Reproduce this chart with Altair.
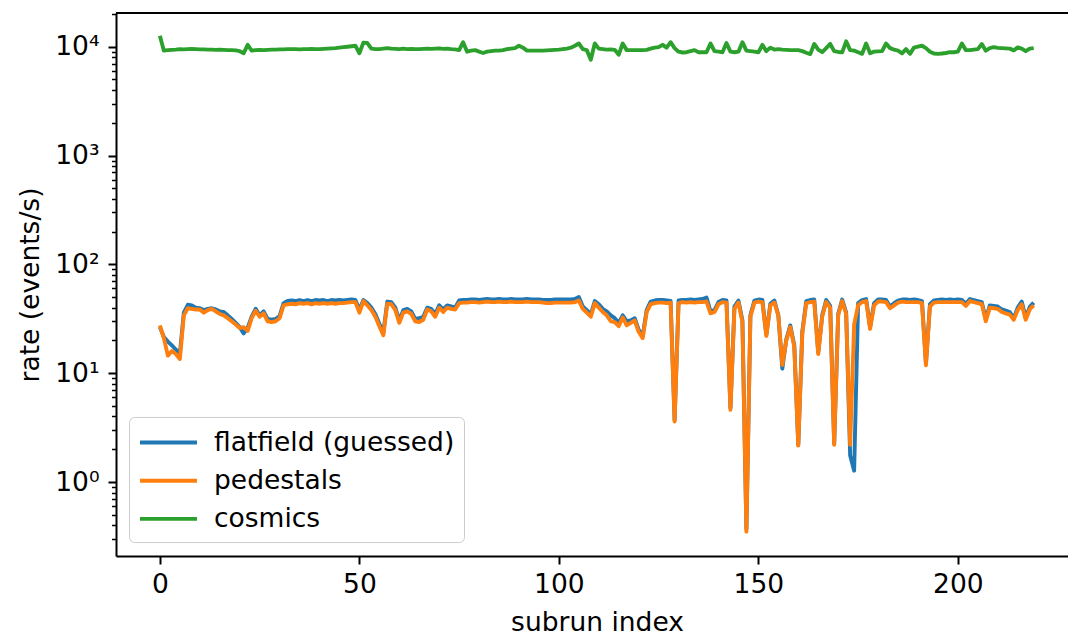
import altair as alt
import pandas as pd

series_names = ["flatfield (guessed)", "pedestals", "cosmics"]
series_colors = ["#1f77b4", "#ff7f0e", "#2ca02c"]

subrun = list(range(220))

flatfield = [
    26.5, 21.5, 19.5, 18, 16.5, 15, 36, 42.5, 42, 40,
    39.5, 38, 39, 39.5, 38.5, 37, 36.5, 34, 31.5, 29,
    26.5, 23.2, 26, 33, 39, 34, 37, 31.5, 31, 31.5,
    33.5, 44, 46, 46.5, 46, 47, 46, 47, 46, 47,
    46.5, 47, 46, 47, 46.5, 47, 46.5, 47, 47.5, 47,
    38, 47, 44, 40, 35, 28.5, 23.5, 45.5, 45, 40,
    30.5, 38, 39, 37, 31.5, 32, 33, 40, 39, 35,
    42, 38.5, 42, 41, 40, 46.5, 47, 47, 47.5, 47.5,
    47, 47.5, 48, 47.5, 47.5, 48, 47.5, 47.5, 48, 47.5,
    47.5, 47.5, 48, 47.5, 47.5, 47.5, 47, 47, 47, 47.5,
    47.5, 47.5, 47.5, 47.5, 48, 50, 41, 38, 34.5, 46,
    43, 39, 37, 34, 32, 29, 34, 30, 30.5, 32,
    25, 22, 38, 45.5, 46.5, 47, 47, 46.5, 46, 3.7,
    46.5, 47, 47, 47.5, 47, 47.5, 48, 49.5, 37, 38,
    45, 47, 46.5, 4.8, 41, 46.5, 30.5, 0.37, 34, 46.5,
    47.5, 47, 22.5, 43.5, 46.5, 34, 11, 20.5, 27.5, 18,
    2.2, 24, 46, 47, 47.5, 15.5, 34, 47, 41.5, 2.25,
    35, 47.5, 36, 1.75, 1.27, 44, 47, 48, 26.5, 44,
    47.5, 47.5, 47, 41, 44, 46.5, 47.5, 47.5, 47, 47.5,
    47, 46, 12.3, 43, 46.5, 47, 47.5, 47, 47.5, 47,
    47.5, 47, 43.5, 48, 47, 46, 45, 31.5, 42, 41.5,
    41, 38.5, 37.5, 36.5, 32, 40, 45.5, 32.5, 40.5, 44.5,
]

pedestals = [
    27.5, 21, 14.5, 16, 15, 13.5, 34, 39.5, 39, 38.5,
    38.5, 36, 38, 39, 37, 35, 34, 32, 30, 28,
    26, 26.5, 24.5, 32, 37.5, 33, 35.5, 30, 29.5, 30,
    32, 42, 43, 43.5, 43, 44, 43.5, 44, 43, 44,
    43.5, 44, 43.5, 44, 43.5, 44, 44, 44.5, 45, 45,
    36, 46, 42, 38, 33, 27, 22.3, 43.5, 43, 38,
    29, 36, 37, 35, 30, 29.5, 31, 38.5, 37, 33,
    40, 36.5, 40, 39, 38.5, 44, 44.5, 44.5, 45, 45,
    44.5, 45, 45.5, 45, 45, 45.5, 45, 45, 45.5, 45,
    45, 45, 45.5, 45, 45, 45, 44.5, 44, 44, 44.5,
    44.5, 44.5, 44.5, 44.5, 45, 46.5, 39, 36, 33, 44,
    40, 36.5, 34, 30, 29.5, 27, 32.5, 27.5, 29, 30.5,
    24, 21, 36.5, 43, 44, 44.5, 44.5, 44, 44.5, 3.6,
    44, 45, 44.5, 45, 44.5, 45, 45, 45.5, 35.5, 36.5,
    43, 45, 44.5, 4.6, 39, 44.5, 29.5, 0.35, 33, 44.5,
    45.5, 45, 22, 42, 44.5, 34, 11.9, 20, 26.5, 17.5,
    2.16, 23, 44, 45, 45.5, 15, 33, 45, 40, 2.2,
    34, 46, 35, 2.2, 28, 42, 45, 46, 25.5, 42,
    45.5, 45.5, 45, 39.5, 42, 44.5, 45.5, 45, 45, 45,
    45, 44, 11.8, 41, 44.5, 45, 45, 45, 45, 45,
    45, 45, 41.5, 46, 45, 44, 43, 30, 40, 39.5,
    39, 36.5, 35.5, 34.5, 31, 38, 43, 31, 38.5, 42,
]

cosmics = [
    12600, 9200, 9300, 9350, 9400, 9500, 9450, 9500, 9550, 9500,
    9450, 9450, 9400, 9400, 9350, 9400, 9350, 9300, 9300, 9250,
    9100, 8700, 10400, 9200, 9300, 9350, 9300, 9350, 9400, 9400,
    9450, 9450, 9500, 9500, 9500, 9450, 9500, 9500, 9550, 9500,
    9500, 9550, 9600, 9650, 9700, 9800, 9900, 10000, 10100, 10200,
    8700, 10900, 10800, 9600, 9500, 9500, 9600, 9700, 9600, 9550,
    9500, 9600, 9500, 9550, 9500, 9500, 9550, 9600, 9550, 9600,
    9650, 9550, 9600, 9500, 9450, 9300, 11000, 9000, 9200, 9300,
    9000, 8750, 9000, 9100, 9200, 9200, 9300, 9500, 9600, 9700,
    10200, 9800, 9200, 9200, 9200, 9200, 9200, 9250, 9300, 9350,
    9400, 9500, 9600, 9800, 10200, 10700, 9500, 9300, 7600, 10700,
    9600, 9500, 9400, 9450, 9350, 8450, 10700, 9300, 9300, 9300,
    9300, 9300, 9350, 9600, 9800, 9900, 10400, 9800, 11000, 9700,
    9000, 8850, 8900, 9100, 9300, 8900, 8900, 8900, 10700, 9100,
    9000, 8900, 10800, 9000, 8900, 9000, 11000, 9200, 9100, 9000,
    8900, 10400, 9100, 9800, 9400, 9500, 9400, 9350, 9300, 9300,
    9300, 9100, 8800, 8550, 10600, 9400, 8900, 9700, 10600, 9100,
    8950, 8870, 11200, 9300, 9200, 8900, 8600, 10700, 8700, 9000,
    9060, 9100, 10700, 9700, 9400, 9200, 8700, 9500, 8600, 9800,
    10000, 10200, 9700, 9000, 8650, 8600, 8650, 8750, 8900, 8900,
    9000, 10700, 9300, 9300, 9400, 9500, 10600, 9200, 9700, 9900,
    9750, 9700, 9650, 9600, 9250, 9850, 9600, 9100, 9600, 9700,
]

x_ticks = [0, 50, 100, 150, 200]
y_major = [1, 10, 100, 1000, 10000]
y_minor = ([m * 0.1 for m in range(3, 10)] + [m for m in range(2, 10)]
           + [m * 10 for m in range(2, 10)] + [m * 100 for m in range(2, 10)]
           + [m * 1000 for m in range(2, 10)] + [20000])

W, H = 952, 543
FONT = "DejaVu Sans"
FS = 26.5

is_major = "abs(log(datum.value)/LN10 - round(log(datum.value)/LN10)) < 0.001"

frames = []
for name, vals in zip(series_names, [flatfield, pedestals, cosmics]):
    frames.append(pd.DataFrame({"subrun": subrun[:len(vals)], "rate": vals, "series": name}))

x_enc = alt.X(
    "subrun:Q",
    scale=alt.Scale(domain=[-11, 227.6], nice=False, zero=False),
    axis=alt.Axis(
        title="subrun index", values=x_ticks, grid=False, tickSize=8, tickWidth=2,
        tickColor="black", domainColor="black", domainWidth=2, labelPadding=7,
        labelFontSize=FS, labelFont=FONT, labelColor="black", titleFontSize=FS,
        titleFont=FONT, titleColor="black", titleFontWeight="normal",
        titleX=481, titleY=53, labelFlush=False,
    ),
)
y_enc = alt.Y(
    "rate:Q",
    scale=alt.Scale(type="log", domain=[0.209, 20400], nice=False),
    axis=alt.Axis(
        title="rate (events/s)", values=y_major + y_minor, grid=False,
        tickSize={"condition": {"test": is_major, "value": 8}, "value": 4.5},
        tickWidth={"condition": {"test": is_major, "value": 2}, "value": 1.5},
        tickColor="black", domainColor="black", domainWidth=2, labelPadding=9,
        labelExpr=is_major + " ? '10' + ['⁰','¹','²','³','⁴'][round(log(datum.value)/LN10)] : ''",
        labelFontSize=FS, labelFont=FONT, labelColor="black", titleFontSize=FS,
        titleFont=FONT, titleColor="black", titleFontWeight="normal",
        titleX=-72, titleY=H / 2, labelFlush=False, labelOverlap=False,
    ),
)
color_enc = alt.Color(
    "series:N",
    scale=alt.Scale(domain=series_names, range=series_colors),
    legend=alt.Legend(
        title=None, orient="none", legendX=13, legendY=404,
        symbolType="M-2,0H2", symbolSize=812, symbolStrokeWidth=3.9,
        symbolOffset=14, labelOffset=29, labelFontSize=FS, labelFont=FONT,
        labelColor="black", labelLimit=600, padding=9, rowPadding=8.2,
        fillColor="rgba(255,255,255,0.8)", strokeColor="#cccccc", cornerRadius=5,
    ),
)

layers = []
for df in frames:
    layers.append(
        alt.Chart(df).mark_line(strokeWidth=3.9, strokeJoin="round", clip=True).encode(
            x=x_enc, y=y_enc, color=color_enc
        )
    )

top_spine = alt.Chart(frames[0]).mark_rule(color="black", strokeWidth=2).encode(
    x=alt.value(0), x2=alt.value(W), y=alt.value(0)
)

chart = alt.layer(*layers, top_spine).properties(
    width=W, height=H,
    autosize=alt.AutoSizeParams(type="none"),
    padding={"left": 108, "top": 5, "right": 0, "bottom": 85},
).configure_view(strokeWidth=0)

chart.save("out.html", embed_options={"renderer": "svg", "actions": False})
